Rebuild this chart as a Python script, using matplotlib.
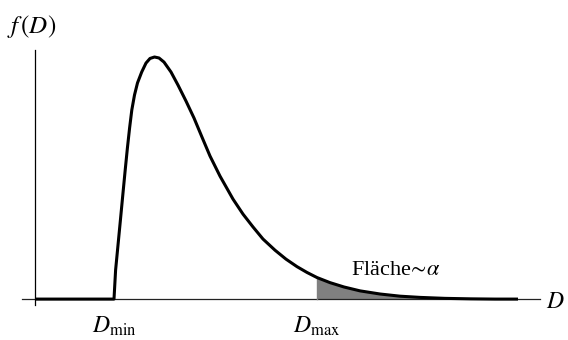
import matplotlib
matplotlib.use("Agg")
import matplotlib.pyplot as plt

plt.rcParams["font.family"] = ["Liberation Serif", "DejaVu Serif"]
plt.rcParams["mathtext.fontset"] = "stix"

# density curve (arbitrary units)
d_vals = [0.0, 1.58, 1.612, 1.66, 1.708, 1.756, 1.804, 1.848, 1.892, 1.936,
          1.99, 2.05, 2.134, 2.22, 2.30, 2.39, 2.48, 2.58, 2.72, 2.86, 3.02,
          3.18, 3.34, 3.50, 3.70, 3.96, 4.16, 4.36, 4.56, 4.80, 5.02, 5.24,
          5.44, 5.64, 5.90, 6.18, 6.50, 6.90, 7.30, 7.70, 8.20, 8.72, 9.20,
          9.66]
f_vals = [0.0, 0.0, 0.120, 0.223, 0.326, 0.430, 0.533, 0.624, 0.707, 0.781,
          0.843, 0.893, 0.938, 0.975, 0.994, 1.0, 0.996, 0.979, 0.938, 0.884,
          0.818, 0.748, 0.669, 0.591, 0.508, 0.413, 0.351, 0.298, 0.248,
          0.202, 0.165, 0.134, 0.110, 0.089, 0.068, 0.050, 0.034, 0.021,
          0.012, 0.007, 0.003, 0.001, 0.0, 0.0]

d_min = 1.58
d_max = 5.64

fig = plt.figure(figsize=(5.68, 3.40), dpi=100)
ax = fig.add_axes([0, 0, 1, 1])
ax.set_xlim(-0.70, 10.66)
ax.set_ylim(-0.169, 1.2355)
ax.axis("off")

# axes
ax.plot([-0.26, 10.1], [0, 0], color="#222222", lw=0.9)
ax.plot([0, 0], [-0.025, 1.029], color="black", lw=0.9)

# shaded tail
tail_d = [d for d in d_vals if d >= d_max]
tail_f = [f for d, f in zip(d_vals, f_vals) if d >= d_max]
ax.fill_between(tail_d, tail_f, 0, color="#808080", lw=0)
ax.plot([d_max, d_max], [0, f_vals[d_vals.index(d_max)]], color="#808080", lw=1)

ax.plot(d_vals, f_vals, color="black", lw=2.2, solid_capstyle="butt",
        solid_joinstyle="round")

fs = 17
ax.text(-0.56, 1.099, "$f\\,(D)$", fontsize=18, ha="left", va="baseline")
ax.text(10.22, -0.037, "$D$", fontsize=fs, ha="left", va="baseline")
ax.text(d_min, -0.140, "$D_{\\mathrm{min}}$", fontsize=fs, ha="center", va="baseline")
ax.text(d_max, -0.140, "$D_{\\mathrm{max}}$", fontsize=fs, ha="center", va="baseline")
ax.text(7.22, 0.099, "Fläche$\\!\\sim\\!\\alpha$", fontsize=16,
        ha="center", va="baseline")

fig.savefig("out.png", dpi=100)
